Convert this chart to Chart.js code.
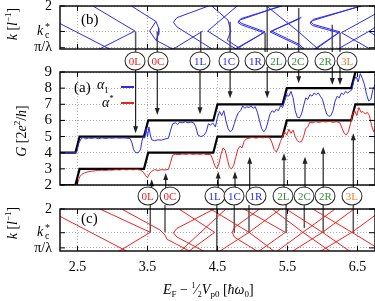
<!DOCTYPE html>
<html lang="en">
<head>
<meta charset="UTF-8" />
<script src="https://cdn.jsdelivr.net/npm/chart.js@4.4.0/dist/chart.umd.min.js"></script>
<style>
  body { margin: 0; background: #fff; }
  #wrap { position: relative; width: 375px; height: 301px; overflow: hidden; font-family: "Liberation Serif", serif; color: #000; }
  canvas { position: absolute; left: 0; }
  .txt { position: absolute; white-space: nowrap; }
  .rot { transform: translate(-50%, -50%) rotate(-90deg); }
  .circ { position: absolute; width: 19px; height: 17px; border: 1px solid #222; border-radius: 50%; background: #fff;
          font-size: 11px; line-height: 17px; text-align: center; transform: translate(-50%, -50%); z-index: 5; }
  .swatch { position: absolute; height: 1.5px; width: 13px; }
</style>
<title>conductance</title>
</head>
<body>
<div id="wrap">
  <canvas id="cb" width="375" height="56" style="top:0"></canvas>
  <canvas id="ca" width="375" height="150" style="top:52px"></canvas>
  <canvas id="cc" width="375" height="101" style="top:200px"></canvas>

  <div class="txt rot" style="left:12px;top:24px;font-size:14px"><i>k</i> [<i>l</i><sup style="font-size:9px">−1</sup>]</div>
  <div class="txt rot" style="left:12px;top:223px;font-size:14px"><i>k</i> [<i>l</i><sup style="font-size:9px">−1</sup>]</div>
  <div class="txt rot" style="left:21px;top:131px;font-size:14px"><i>G</i> [2<i>e</i><sup style="font-size:9px">2</sup>/<i>h</i>]</div>
  <div class="txt" style="left:81px;top:11px;font-size:15px">(b)</div>
  <div class="txt" style="left:81px;top:210px;font-size:15px">(c)</div>
  <div class="txt" style="left:74px;top:79px;font-size:15px">(a)</div>
  <div class="txt" style="left:97px;top:77px;font-size:14px"><i>α</i><sub style="font-size:9px">1</sub></div>
  <div class="txt" style="left:102px;top:93px;font-size:14px"><i>α</i><sup style="font-size:9px">*</sup></div>
  <div class="swatch" style="left:121px;top:86px;background:#2b2bee"></div>
  <div class="swatch" style="left:121px;top:102px;background:#ee2222"></div>
  <div class="txt" style="left:163px;top:281px;font-size:14px"><i>E</i><sub style="font-size:9px">F</sub> − <sup style="font-size:8px">1</sup>⁄<sub style="font-size:8px">2</sub><i>V</i><sub style="font-size:9px">p0</sub> [<i>ħω</i><sub style="font-size:9px">0</sub>]</div>
</div>
<script>
Chart.defaults.font.family = 'Liberation Serif'
Chart.defaults.color = '#000'

const blue = '#2b2bee'
const red = '#ee2222'

const xTicks = [2.5, 3.5, 4.5, 5.5, 6.5]
const gTicks = [2, 3, 4, 5, 6, 7, 8, 9]
const kc = 1.39
const piL = 1.0

// quantized steps (black)
const stepE = [2.25, 2.47, 2.53, 3.45, 3.51, 4.44, 4.50, 5.43, 5.49, 6.41, 6.47, 6.75]
const gLow  = [2, 2, 3, 3, 4, 4, 5, 5, 6, 6, 7, 7]
const gHigh = [4, 4, 5, 5, 6, 6, 7, 7, 8, 8, 9, 9]

// alpha_1 (blue)
const blueE = [2.25,2.45,2.49,2.52,2.55,2.58,2.62,2.66,2.70,2.75,2.80,2.85,2.90,2.95,3.00,3.05,3.10,3.15,3.20,3.25,3.28,3.30,3.33,3.37,3.40,3.42,3.44,3.46,3.48,3.50,3.52,3.54,3.56,3.60,3.65,3.70,3.75,3.80,3.83,3.86,3.90,3.93,3.96,4.00,4.04,4.08,4.12,4.16,4.19,4.22,4.26,4.30,4.34,4.37,4.40,4.43,4.47,4.50,4.53,4.56,4.59,4.62,4.65,4.68,4.71,4.74,4.77,4.80,4.83,4.86,4.89,4.92,4.95,4.98,5.01,5.04,5.07,5.10,5.13,5.16,5.19,5.22,5.25,5.28,5.31,5.34,5.37,5.40,5.43,5.46,5.49,5.52,5.55,5.58,5.61,5.64,5.67,5.70,5.73,5.76,5.79,5.82,5.85,5.88,5.91,5.94,5.97,6.00,6.03,6.06,6.09,6.12,6.15,6.18,6.21,6.24,6.27,6.30,6.33,6.36,6.39,6.42,6.45,6.48,6.51,6.54,6.57,6.60,6.63,6.66,6.69,6.72,6.75]
const blueG = [4.0,4.0,4.05,4.6,4.85,4.95,4.85,4.92,4.88,4.93,4.87,4.92,4.88,4.92,4.9,4.93,4.9,4.92,4.9,4.88,4.6,4.2,4.0,4.0,4.2,4.7,5.0,4.9,5.5,5.0,5.6,5.1,4.8,4.75,4.8,4.78,4.85,4.9,5.4,5.8,5.85,5.75,5.9,5.85,5.92,5.85,5.9,5.85,5.6,5.1,5.0,5.05,5.3,5.8,5.7,5.85,5.6,6.2,6.55,6.3,6.6,6.0,5.5,5.3,5.4,5.8,6.2,6.5,6.6,6.9,6.75,6.85,6.8,6.9,6.75,6.85,6.5,6.0,5.5,5.3,5.45,5.9,6.4,6.6,6.5,6.7,6.6,6.9,6.8,7.2,7.6,7.5,7.8,7.4,6.6,6.2,6.15,6.4,6.9,7.4,7.3,7.6,7.5,7.7,7.6,7.7,7.5,7.3,6.8,6.4,6.25,6.3,6.6,7.2,7.5,7.4,7.7,7.6,7.8,7.7,7.8,7.9,8.5,8.7,8.4,8.9,8.6,8.2,7.6,7.2,7.3,7.9,8.2]

// alpha* (red)
const redE = [2.25,2.48,2.50,2.53,2.56,2.60,2.65,2.70,2.75,2.80,2.85,2.90,2.95,3.00,3.05,3.10,3.15,3.20,3.25,3.30,3.35,3.40,3.44,3.47,3.50,3.53,3.56,3.60,3.65,3.70,3.75,3.80,3.83,3.86,3.90,3.95,4.00,4.05,4.10,4.15,4.20,4.25,4.30,4.35,4.40,4.43,4.46,4.49,4.52,4.55,4.58,4.61,4.64,4.67,4.70,4.73,4.76,4.79,4.82,4.85,4.88,4.91,4.95,5.00,5.05,5.10,5.15,5.20,5.25,5.28,5.31,5.34,5.37,5.40,5.43,5.46,5.49,5.52,5.55,5.58,5.61,5.64,5.67,5.70,5.73,5.76,5.79,5.82,5.85,5.90,5.95,6.00,6.05,6.10,6.15,6.20,6.25,6.28,6.31,6.34,6.37,6.40,6.43,6.46,6.49,6.52,6.55,6.58,6.61,6.64,6.67,6.70,6.73,6.75]
const redG = [2.0,2.0,2.1,2.5,2.65,2.75,2.82,2.85,2.88,2.9,2.92,2.9,2.93,2.92,2.95,2.93,2.96,2.94,2.96,2.94,2.97,2.92,2.8,2.6,2.45,2.7,2.85,2.95,2.9,2.95,2.93,2.97,3.4,3.85,3.9,3.88,3.92,3.9,3.93,3.9,3.92,3.9,3.93,3.88,3.9,3.6,3.2,3.0,3.3,3.9,4.3,4.15,3.6,3.1,3.0,3.2,3.7,4.2,4.4,4.3,4.7,4.85,4.9,4.95,4.9,4.95,4.92,4.97,4.9,4.6,4.2,4.05,4.3,4.7,5.0,5.3,5.1,5.45,5.2,5.4,5.0,4.75,4.65,4.7,5.0,5.5,5.6,5.9,5.85,5.92,5.88,5.93,5.9,5.95,5.88,5.92,5.85,5.5,5.2,5.1,5.3,5.8,6.4,6.6,6.3,6.8,6.5,6.55,6.4,6.5,6.3,5.7,5.3,5.5]

// arrows in (a): top ones point down to alpha_1, bottom ones point up to alpha*
const topArrowE = [3.33, 3.64, 4.25, 4.68, 5.21, 5.66, 6.14, 6.25]
const topArrowG = [5.2, 6.34, 6.38, 7.37, 7.37, 8.3, 8.2, 8.2]
const botArrowE = [3.56, 3.76, 4.51, 4.75, 4.96, 5.45, 5.75, 6.01, 6.44]
const botArrowG = [2.35, 2.75, 2.83, 2.83, 3.75, 3.96, 3.75, 4.37, 5.2]

// circled labels
const labels = ['0L', '0C', '1L', '1C', '1R', '2L', '2C', '2R', '3L']
const labelColors = [red, red, blue, blue, blue, '#3a8a3a', '#3a8a3a', '#3a8a3a', '#f0802a']
const topLabelE = [3.32, 3.65, 4.25, 4.66, 5.04, 5.34, 5.65, 6.04, 6.35]
const botLabelE = [3.50, 3.82, 4.46, 4.74, 5.05, 5.44, 5.74, 6.04, 6.42]

// band structure (b), blue, points [E, k]
const bandB = [
  [[2.25,1.58],[2.98,0.95]],
  [[2.72,2.0],[3.32,1.40],[2.79,0.95]],
  [[3.27,2.0],[3.62,1.63],[3.66,1.47],[3.66,1.32],[3.62,1.18],[3.88,0.95]],
  [[3.62,1.63],[3.53,1.40],[3.62,1.18]],
  [[4.37,2.0],[3.92,1.72],[3.87,1.61],[3.92,1.50],[4.44,0.95]],
  [[3.85,0.95],[4.29,1.40]],
  [[4.78,2.0],[4.36,1.40],[4.78,0.95]],
  [[4.42,2.0],[4.65,1.66],[4.69,1.40],[4.64,1.18],[4.85,0.95]],
  [[5.42,2.0],[4.84,1.70],[4.80,1.64],[4.85,1.58],[5.18,1.38],[4.75,0.95]],
  [[5.40,2.0],[4.83,1.67],[4.79,1.61],[4.84,1.55],[5.16,1.36],[4.73,0.95]],
  [[5.68,1.70],[5.25,1.38],[5.65,1.06],[5.73,0.95]],
  [[5.70,1.73],[5.27,1.40],[5.67,1.08],[5.75,0.95]],
  [[5.20,2.0],[5.66,1.38],[5.95,0.95]],
  [[6.56,2.0],[5.87,1.68],[5.83,1.62],[5.87,1.56],[6.25,1.38],[5.89,0.95]],
  [[6.54,2.0],[5.86,1.65],[5.82,1.59],[5.86,1.53],[6.23,1.36],[5.87,0.95]],
  [[6.80,1.85],[6.27,1.36],[6.70,0.95]],
  [[6.20,0.95],[6.66,1.39],[6.80,1.55]],
  [[6.66,1.39],[6.80,1.25]]
]
const nodeB = [[3.33,1.39],[3.64,1.39],[4.26,1.39],[4.68,1.62],[5.18,1.36],[5.21,2.0],[5.66,1.95],[6.14,1.55],[6.25,1.36]]

// band structure (c), red
const bandC = [
  [[2.25,1.81],[3.22,0.90]],
  [[2.82,2.0],[3.54,1.40],[3.08,0.90]],
  [[3.13,2.0],[3.68,1.46],[3.75,1.33],[3.78,1.22],[4.12,0.90]],
  [[4.45,2.0],[3.92,1.50],[3.87,1.39],[3.92,1.28],[4.32,0.90]],
  [[3.96,0.90],[4.62,2.0]],
  [[3.95,2.0],[4.46,1.40],[4.08,0.90]],
  [[5.10,2.0],[4.74,1.52],[4.71,1.40],[4.74,1.28],[5.08,0.90]],
  [[4.40,2.0],[4.95,1.40],[4.52,0.90]],
  [[4.95,1.40],[5.40,2.0]],
  [[4.95,1.40],[5.32,0.90]],
  [[4.88,2.0],[5.47,1.40],[5.08,0.90]],
  [[5.28,2.0],[5.72,1.40],[5.34,0.90]],
  [[5.72,1.40],[6.18,2.0]],
  [[5.72,1.40],[6.12,0.90]],
  [[5.56,0.90],[6.00,1.40],[6.45,2.0]],
  [[5.48,2.0],[6.00,1.40],[6.40,0.90]],
  [[5.96,0.90],[6.42,1.40],[5.86,2.0]],
  [[6.42,1.40],[6.80,1.90]],
  [[6.42,1.40],[6.80,0.98]]
]
const nodeC = [[3.54,1.40],[3.75,1.40],[4.49,0.92],[4.74,1.38],[4.95,1.38],[5.48,1.38],[5.74,1.51],[6.01,1.38],[6.44,1.38]]

const pts = (xs, ys) => xs.map((x, i) => ({ x: x, y: ys[i] }))
const poly = p => p.map(q => ({ x: q[0], y: q[1] }))

function line(ctx, x1, y1, x2, y2) {
  ctx.beginPath(); ctx.moveTo(x1, y1); ctx.lineTo(x2, y2); ctx.stroke()
}

const framePlugin = {
  id: 'frame',
  afterDraw(chart) {
    const { ctx, chartArea: a, scales } = chart
    ctx.save()
    ctx.strokeStyle = '#000'
    ctx.lineWidth = 1.4
    ctx.strokeRect(a.left, a.top, a.right - a.left, a.bottom - a.top)
    ctx.lineWidth = 1
    scales.x.ticks.forEach(t => {
      const p = scales.x.getPixelForValue(t.value)
      line(ctx, p, a.top, p, a.top + 5)
      line(ctx, p, a.bottom, p, a.bottom - 5)
    })
    scales.y.ticks.forEach(t => {
      const p = scales.y.getPixelForValue(t.value)
      line(ctx, a.left, p, a.left + 5, p)
      line(ctx, a.right, p, a.right - 6, p)
    })
    ctx.restore()
  }
}

// k_c^* tick label with sub/superscript
const kcPlugin = {
  id: 'kcLabel',
  afterDraw(chart) {
    const { ctx, scales } = chart
    const p = scales.y.getPixelForValue(kc)
    ctx.save()
    ctx.fillStyle = '#000'
    ctx.textBaseline = 'middle'
    ctx.font = 'italic 14px Liberation Serif'
    ctx.fillText('k', 37, p)
    ctx.font = '10px Liberation Serif'
    ctx.fillText('*', 45, p - 4)
    ctx.fillText('c', 45, p + 4)
    ctx.restore()
  }
}

function head(ctx, x, y, dir) {
  ctx.beginPath()
  ctx.moveTo(x, y)
  ctx.lineTo(x - 2.5, y - 7 * dir)
  ctx.lineTo(x + 2.5, y - 7 * dir)
  ctx.closePath()
  ctx.fill()
}

const arrowPlugin = {
  id: 'arrows',
  afterDatasetsDraw(chart) {
    const { ctx, chartArea: a, scales: { x, y } } = chart
    ctx.save()
    ctx.strokeStyle = '#222'
    ctx.fillStyle = '#222'
    ctx.lineWidth = 1.2
    topArrowE.forEach((e, i) => {
      const px = x.getPixelForValue(e), ty = y.getPixelForValue(topArrowG[i])
      line(ctx, px, a.top - 5, px, ty - 5)
      head(ctx, px, ty, 1)
    })
    botArrowE.forEach((e, i) => {
      const px = x.getPixelForValue(e), ty = y.getPixelForValue(botArrowG[i])
      line(ctx, px, a.bottom + 5, px, ty + 5)
      head(ctx, px, ty, -1)
    })
    ctx.restore()
  }
}

// scales: fixed sizes, and no extra padding from the edge tick labels
function xScale(showLabels, height) {
  return {
    type: 'linear', min: 2.25, max: 6.75,
    afterBuildTicks: s => { s.ticks = xTicks.map(v => ({ value: v })) },
    afterFit: s => { s.height = height; s.paddingLeft = 0; s.paddingRight = 0 },
    grid: { color: '#999', lineWidth: 0.8, drawTicks: false },
    border: { display: false, dash: [1, 2] },
    ticks: { display: showLabels, padding: 8, font: { size: 14 }, callback: v => v.toFixed(1) }
  }
}

function yFit(s) { s.width = 60; s.paddingTop = 0; s.paddingBottom = 0 }

function kScale(min) {
  return {
    min: min, max: 2,
    afterBuildTicks: s => { s.ticks = [piL, kc, 2].map(v => ({ value: v })) },
    afterFit: yFit,
    grid: { color: '#999', lineWidth: 0.8, drawTicks: false },
    border: { display: false, dash: [1, 2] },
    ticks: { autoSkip: false, padding: 8, font: { size: 14 },
             callback: v => v === kc ? '' : (v === piL ? 'π/λ' : '2') }
  }
}

function bandSets(bands, nodes, color, nodeEnd) {
  const sets = bands.map(b => ({ data: poly(b), borderColor: color, borderWidth: 1, showLine: true, pointRadius: 0 }))
  nodes.forEach(n => {
    sets.push({ data: poly([[n[0], n[1]], [n[0], nodeEnd]]), borderColor: '#555', borderWidth: 1.5,
                showLine: true, pointRadius: 0, clip: { left: 0, right: 0, top: 8, bottom: 8 } })
  })
  return sets
}

const common = { responsive: false, animation: false, plugins: { legend: { display: false }, tooltip: { enabled: false } } }

new Chart(document.getElementById('cb'), {
  type: 'scatter',
  data: { datasets: bandSets(bandB, nodeB, blue, 0.9) },
  options: Object.assign({}, common, {
    layout: { padding: { top: 6, bottom: 7, left: 0, right: 0 } },
    scales: { x: xScale(false, 0), y: kScale(0.97) }
  }),
  plugins: [framePlugin, kcPlugin]
})

const chartA = new Chart(document.getElementById('ca'), {
  type: 'scatter',
  data: {
    datasets: [
      { data: pts(blueE, blueG), borderColor: blue, borderWidth: 1, showLine: true, pointRadius: 0 },
      { data: pts(redE, redG), borderColor: red, borderWidth: 1, showLine: true, pointRadius: 0 },
      { data: pts(stepE, gHigh), borderColor: '#000', borderWidth: 2.2, showLine: true, pointRadius: 0 },
      { data: pts(stepE, gLow), borderColor: '#000', borderWidth: 2.2, showLine: true, pointRadius: 0 }
    ]
  },
  options: Object.assign({}, common, {
    layout: { padding: { top: 20, bottom: 17, left: 0, right: 0 } },
    scales: {
      x: xScale(false, 0),
      y: {
        min: 2, max: 9,
        afterBuildTicks: s => { s.ticks = gTicks.map(v => ({ value: v })) },
        afterFit: yFit,
        grid: { color: '#999', lineWidth: 0.8, drawTicks: false },
        border: { display: false, dash: [1, 2] },
        ticks: { autoSkip: false, padding: 8, font: { size: 15 } }
      }
    }
  }),
  plugins: [framePlugin, arrowPlugin]
})

new Chart(document.getElementById('cc'), {
  type: 'scatter',
  data: { datasets: bandSets(bandC, nodeC, red, 2.1) },
  options: Object.assign({}, common, {
    layout: { padding: { top: 9, bottom: 0, left: 0, right: 0 } },
    scales: { x: xScale(true, 50), y: kScale(0.92) }
  }),
  plugins: [framePlugin, kcPlugin]
})

// circled labels, placed with the x scale of panel (a)
const wrap = document.getElementById('wrap')
function addCircles(es, top) {
  es.forEach((e, i) => {
    const d = document.createElement('div')
    d.className = 'circ'
    d.textContent = labels[i]
    d.style.color = labelColors[i]
    d.style.left = chartA.scales.x.getPixelForValue(e) + 'px'
    d.style.top = top + 'px'
    wrap.appendChild(d)
  })
}
addCircles(topLabelE, 61)
addCircles(botLabelE, 196)
</script>
</body>
</html>
